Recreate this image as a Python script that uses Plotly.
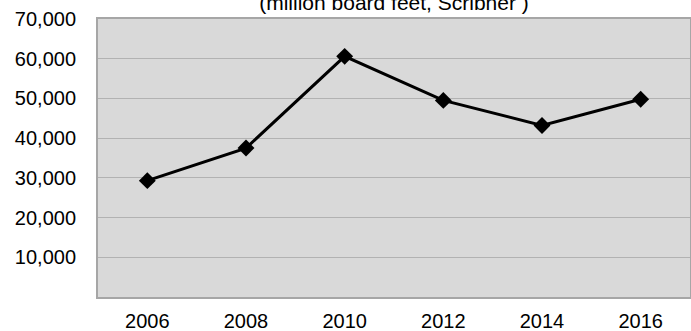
import plotly.graph_objects as go

# Lumber volume by year (million board feet, Scribner)
years = ["2006", "2008", "2010", "2012", "2014", "2016"]
volume = [29300, 37500, 60600, 49500, 43200, 49800]

# y-axis ticks (no label at zero)
y_tickvals = [10000, 20000, 30000, 40000, 50000, 60000, 70000]
y_ticktext = ["10,000", "20,000", "30,000", "40,000", "50,000", "60,000", "70,000"]

FONT = "Arial, Liberation Sans, sans-serif"
GRID = "#b2b2b2"
FRAME = "#a6a6a6"

fig = go.Figure(
    go.Scatter(
        x=years,
        y=volume,
        mode="lines+markers",
        line=dict(color="#000000", width=3),
        marker=dict(symbol="diamond", size=13, color="#000000"),
        cliponaxis=False,
        showlegend=False,
    )
)

fig.update_layout(
    width=691,
    height=331,
    margin=dict(l=98, r=1, t=19, b=34),
    paper_bgcolor="#ffffff",
    plot_bgcolor="#d9d9d9",
    font=dict(family=FONT, size=20, color="#000000"),
    title=dict(
        text="(million board feet, Scribner )",
        font=dict(family=FONT, size=21, color="#000000"),
        x=0.5,
        xref="paper",
        xanchor="center",
        y=1 - 3 / 331,
        yref="container",
        yanchor="middle",
    ),
)

fig.update_xaxes(
    type="category",
    range=[-0.5, len(years) - 0.5],
    automargin=False,
    showgrid=False,
    showline=True,
    linecolor=FRAME,
    linewidth=2,
    mirror=True,
    ticks="",
    ticklabelstandoff=5,
    tickfont=dict(family=FONT, size=20, color="#000000"),
)

fig.update_yaxes(
    range=[0, 70000],
    automargin=False,
    tickvals=y_tickvals,
    ticktext=y_ticktext,
    showgrid=True,
    gridcolor=GRID,
    gridwidth=1,
    zeroline=False,
    showline=True,
    linecolor=FRAME,
    linewidth=2,
    mirror=True,
    ticks="",
    ticklabelstandoff=16,
    tickfont=dict(family=FONT, size=20, color="#000000"),
)

fig.write_html("out.html")
